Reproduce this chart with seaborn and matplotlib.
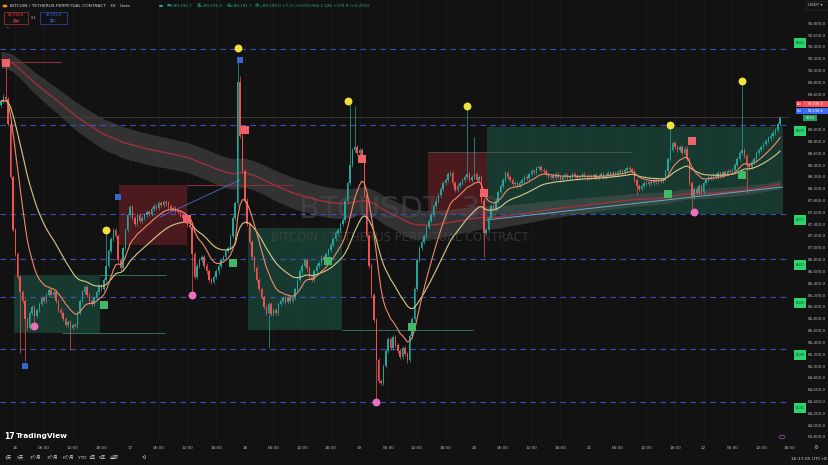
import numpy as np
import pandas as pd
import matplotlib
matplotlib.use("Agg")
import matplotlib.pyplot as plt
from matplotlib.patches import Rectangle, Circle
import seaborn as sns

# BTC/USDT perpetual (Gate), 30 min candles, 15th 21:00 -> 22nd 16:00
# one row = 12 candles = 6 hours
first_open = 89420
closes = [
    89480, 89560, 89520, 89100, 88200, 87300, 86900, 86500, 86250, 86100, 85800, 85650,
    85900, 86000, 85850, 85950, 86050, 86150, 86100, 86200, 86280, 86200, 86250, 86100,
    85950, 85900, 85800, 85700, 85750, 85650, 85700, 85680, 85900, 86100, 86250, 86330,
    86200, 86100, 86050, 86150, 86250, 86350, 86300, 86450, 86700, 86950, 87150, 87300,
    87200, 86800, 86650, 87000, 87300, 87550, 87690, 87500, 87400, 87550, 87450, 87500,
    87550, 87600, 87580, 87650, 87700, 87680, 87750, 87720, 87780, 87750, 87700, 87650,
    87680, 87620, 87600, 87550, 87500, 87450, 87380, 87350, 86900, 86500, 86700, 86800,
    86850, 86700, 86600, 86450, 86420, 86500, 86600, 86700, 86800, 86850, 86950, 87000,
    87200, 87500, 87750, 89800, 88900, 88300, 87800, 87400, 87100, 86850, 86650, 86450,
    86300, 86170, 86000, 85900, 86050, 85880, 85950, 85900, 86050, 86100, 86150, 86080,
    86170, 86100, 86150, 86300, 86450, 86600, 86700, 86800, 86650, 86500, 86460, 86600,
    86700, 86750, 86850, 86800, 86900, 86960, 87050, 87150, 87250, 87300, 87400, 87470,
    87800, 88100, 88400, 88650, 88710, 88600, 88650, 88500, 87900, 87200, 86700, 86200,
    85780, 85100, 84750, 84720, 85000, 85250, 85450, 85300, 85490, 85350, 85250, 85150,
    85300, 85200, 85100, 85500, 85800, 86300, 86800, 87000, 87100, 87200, 87350, 87450,
    87550, 87700, 87800, 87900, 88000, 88100, 88150, 88250, 88270, 88100, 87980, 88050,
    88100, 88150, 88200, 88250, 88150, 88200, 88250, 88150, 88200, 87800, 87250, 87300,
    87500, 87700, 87650, 87800, 87950, 88050, 88150, 88270, 88200, 88150, 88080, 88100,
    88050, 88100, 88150, 88200, 88180, 88250, 88300, 88280, 88350, 88370, 88320, 88300,
    88250, 88200, 88220, 88180, 88240, 88200, 88150, 88200, 88230, 88180, 88200, 88250,
    88220, 88180, 88200, 88240, 88210, 88190, 88220, 88200, 88230, 88180, 88210, 88250,
    88200, 88230, 88260, 88240, 88270, 88250, 88280, 88300, 88280, 88320, 88350, 88330,
    88300, 88150, 88050, 88000, 88050, 88100, 88080, 88120, 88100, 88140, 88110, 88150,
    88130, 88160, 88300, 88500, 88650, 88770, 88700, 88650, 88700, 88600, 88680, 88500,
    88100, 87860, 88000, 87930, 88050, 87950, 88100, 88150, 88200, 88180, 88230, 88200,
    88260, 88220, 88280, 88250, 88300, 88280, 88320, 88400, 88500, 88600, 88650, 88550,
    88400, 88370, 88450, 88500, 88600, 88650, 88700, 88750, 88800, 88850, 88900, 88950,
    89000, 89100, 89199,
]
# long wicks (candle index -> extreme)
wick_high = {2: 90060, 44: 87350, 99: 90180, 100: 89900, 146: 89450, 148: 89400,
             195: 89400, 198: 88870, 280: 89080, 310: 89830}
wick_low = {8: 85220, 10: 85080, 14: 85720, 29: 85270, 80: 86170, 112: 85300,
            157: 84391, 170: 85050, 202: 86850, 266: 87900, 289: 87600, 312: 87930}

# long EMA tunnel was already running before the visible window
band_seed_fast = 90120
band_seed_slow = 90260

# signal markers (candle index, price)
yellow_idx = [44, 99, 145, 195, 280, 310]
yellow_px = [87300, 90380, 89480, 89400, 89080, 89820]
pink_idx = [14, 80, 157, 290]
pink_px = [85680, 86200, 84390, 87600]
sell_idx = [2, 78, 102, 151, 202, 289]
sell_px = [90127, 87488, 88994, 88503, 87928, 88807]
buy_idx = [43, 97, 137, 172, 279, 310]
buy_px = [86032, 86743, 86785, 85660, 87910, 88232]
blue_idx = [10, 49, 100]
blue_px = [85000, 87860, 90178]

# zones: (start idx, end idx, low, high)
green_zones = [(5.4, 41.4, 85559, 86540), (103.3, 142.7, 85610, 87335),
               (203.4, 327.2, 87572, 89044)]
red_zones = [(49.4, 77.8, 87048, 88063), (178.7, 203.4, 87555, 88604)]

# horizontal levels
level_prices = [90364, 89078, 87572, 86811, 86168, 85288, 84391]

days = ["16", "17", "18", "19", "20", "21", "22"]
time_labels = []
for d in days:
    time_labels += [d, "06:00", "12:00", "18:00"]

BG = "#121212"
UP, DOWN = "#26a69a", "#ef5350"
TXT = "#b2b5be"
W, H = 829, 465
YMIN, YMAX = 83748, 91193

sns.set_theme(style="dark", rc={"axes.facecolor": BG, "figure.facecolor": BG,
                                "axes.edgecolor": BG})
plt.rcParams["font.family"] = ["DejaVu Sans", "Noto Sans CJK SC"]

n = len(closes)
df = pd.DataFrame({"i": np.arange(n), "close": closes})
df["open"] = [first_open] + closes[:-1]
df["high"] = df[["open", "close"]].max(axis=1) + 35
df["low"] = df[["open", "close"]].min(axis=1) - 35
for k, v in wick_high.items():
    df.loc[k, "high"] = v
for k, v in wick_low.items():
    df.loc[k, "low"] = v

df["ema_fast"] = df["close"].ewm(span=12, adjust=False).mean()
df["ema_slow"] = df["close"].ewm(span=30, adjust=False).mean()
a = pd.Series([band_seed_fast] + closes).ewm(span=190, adjust=False).mean().iloc[1:].values
b = pd.Series([band_seed_slow] + closes).ewm(span=250, adjust=False).mean().iloc[1:].values
df["band_lo"] = np.minimum(a, b) - 70
df["band_hi"] = np.maximum(a, b) + 70
df["band_mid"] = (a + b) / 2

fig = plt.figure(figsize=(W / 100, H / 100), dpi=100)
ax = fig.add_axes([0, 25 / H, 790 / W, 440 / H])
ax.set_xlim(-0.42, 330.1)
ax.set_ylim(YMIN, YMAX)

# zones
for x0, x1, lo, hi in green_zones:
    ax.add_patch(Rectangle((x0, lo), x1 - x0, hi - lo, facecolor="#1c5a4a",
                           alpha=0.55, edgecolor="none", zorder=1))
for x0, x1, lo, hi in red_zones:
    ax.add_patch(Rectangle((x0, lo), x1 - x0, hi - lo, facecolor="#6a1f26",
                           alpha=0.65, edgecolor="none", zorder=1))

# tunnel band
ax.fill_between(df["i"], df["band_lo"], df["band_hi"], color="#5a5a5a",
                alpha=0.45, lw=0, zorder=1.5)
sns.lineplot(data=df, x="i", y="band_mid", color="#b0303e", lw=1.0, alpha=0.85,
             ax=ax, zorder=2)

# watermark
ax.text(0.506, 0.523, "BTCUSDT, 30", transform=ax.transAxes, ha="center",
        va="center", fontsize=22, color="#4a4a4a", alpha=0.6, zorder=1.8)
ax.text(0.506, 0.462, "BITCOIN / TETHERUS PERPETUAL CONTRACT", transform=ax.transAxes,
        ha="center", va="center", fontsize=8.4, color="#4a4a4a", alpha=0.6, zorder=1.8)

# levels and drawn lines
for p in level_prices:
    ax.axhline(p, color="#3f52b8", lw=0.8, ls=(0, (5, 4)), zorder=2)
ax.axhline(89213, color="#4a3d33", lw=0.6, zorder=1.6)
ax.hlines(90144, 0, 25, color="#8a3038", lw=0.8, zorder=2)
ax.hlines(86540, 41.4, 69, color="#2f6f5f", lw=0.7, zorder=2)
ax.hlines(85559, 25.5, 68.6, color="#2f6f5f", lw=0.7, zorder=2)
ax.hlines(88063, 77.8, 121.8, color="#8a3038", lw=0.7, zorder=2)
ax.hlines(85610, 142.7, 197.5, color="#2f6f5f", lw=0.7, zorder=2)
ax.hlines(88620, 178.7, 264, color="#555555", lw=0.6, zorder=2)
ax.plot([66.5, 100], [87521, 88148], color="#4a6fd0", lw=0.6, zorder=2)
ax.plot([203, 327], [87471, 88029], color="#6fa8c8", lw=0.7, zorder=2)

# candles
up = df["close"] >= df["open"]
cols = np.where(up, UP, DOWN)
ax.vlines(df["i"], df["low"], df["high"], colors=cols, lw=0.5, zorder=3)
body = (df["close"] - df["open"]).abs().clip(lower=10)
ax.bar(df["i"], body, bottom=df[["open", "close"]].min(axis=1), width=0.62,
       color=cols, lw=0, zorder=3)

# moving averages
sns.lineplot(data=df, x="i", y="ema_slow", color="#d9c98a", lw=0.8, ax=ax, zorder=4)
sns.lineplot(data=df, x="i", y="ema_fast", color="#f08a6a", lw=0.8, ax=ax, zorder=4)

# signals
sns.scatterplot(x=yellow_idx, y=yellow_px, color="#f2e13a", s=32, lw=0, ax=ax, zorder=5)
sns.scatterplot(x=pink_idx, y=pink_px, color="#ee6fc0", s=32, lw=0, ax=ax, zorder=5)
sns.scatterplot(x=sell_idx, y=sell_px, color="#f0626a", marker="s", s=40, lw=0, ax=ax, zorder=5)
sns.scatterplot(x=buy_idx, y=buy_px, color="#43b968", marker="s", s=36, lw=0, ax=ax, zorder=5)
sns.scatterplot(x=blue_idx, y=blue_px, color="#3466d6", marker="s", s=20, lw=0, ax=ax, zorder=5)

# axes
ax.set_xlabel("")
ax.set_ylabel("")
ax.set_xticks(np.arange(6, 6 + 12 * len(time_labels), 12))
ax.set_xticklabels(time_labels)
ax.yaxis.tick_right()
yt = np.arange(83800, 90801, 200)
ax.set_yticks(yt)
# the 89,200 label sits under the ask/bid tags
ax.set_yticklabels(["" if v == 89200 else f"{v:,.1f}" for v in yt])
ax.tick_params(axis="x", length=0, pad=4, labelsize=3, labelcolor=TXT)
ax.tick_params(axis="y", length=0, pad=13, labelsize=3, labelcolor=TXT)
ax.grid(axis="x", color="#1a1a1a", lw=0.6)
ax.grid(axis="y", visible=False)
ax.set_axisbelow(True)
for s in ax.spines.values():
    s.set_visible(False)


def py(p):
    return (YMAX - p) / (YMAX - YMIN) * 440


def frect(x, y, w, h, color, **kw):
    fig.add_artist(Rectangle((x / W, 1 - (y + h) / H), w / W, h / H,
                             transform=fig.transFigure, facecolor=color, **kw))


def ftext(x, y, s, **kw):
    kw.setdefault("va", "center")
    fig.text(x / W, 1 - y / H, s, **kw)


# level tags on the price scale
for j, p in enumerate(level_prices):
    yc = py(p) + (-6 if j == 0 else 6)
    frect(794, yc - 5, 12, 10, "#2bd46f", edgecolor="none")
    ftext(800, yc, f"{p:,.0f}", fontsize=1.8, color="#0b3d1e", ha="center")

# ask / bid / countdown
frect(796, 101, 7, 6, "#f23645", edgecolor="none")
ftext(799.5, 104, "Ask", fontsize=2.2, color="white", ha="center")
frect(803, 101, 26, 6, "#f7525f", edgecolor="none")
ftext(816, 104, "89,198.9", fontsize=2.5, color="white", ha="center")
frect(796, 108, 7, 6, "#2962ff", edgecolor="none")
ftext(799.5, 111, "Bid", fontsize=2.2, color="white", ha="center")
frect(803, 108, 26, 6, "#3d6df5", edgecolor="none")
ftext(816, 111, "89,198.8", fontsize=2.5, color="white", ha="center")
frect(803, 115, 14, 6, "#1e9e62", edgecolor="none")
ftext(810, 118, "10:52", fontsize=2.3, color="white", ha="center")

frect(806, 1, 22, 9, BG, edgecolor="#2a2a2a", lw=0.5)
ftext(808, 5.5, "USDT ▾", fontsize=3, color="#d1d4dc")

# header legend
fig.add_artist(Circle((5 / W, 1 - 6 / H), 2.5 / W, transform=fig.transFigure,
                      facecolor="#f7931a", edgecolor="none"))
ftext(10, 6, "BITCOIN / TETHERUS PERPETUAL CONTRACT · 30 · Gate", fontsize=3.2,
      color="#d1d4dc")
fig.add_artist(Circle((161 / W, 1 - 6 / H), 2 / W, transform=fig.transFigure,
                      facecolor="#22ab94", edgecolor="none"))
ohlc = [(167, "开=89,191.7"), (197, "高=89,235.2"), (227, "低=89,191.7"),
        (255, "收=89,199.0 +7.3 (+0.01%)"), (313, "Vol 1.32K +178.9 (+0.20%)")]
for x, s in ohlc:
    ftext(x, 6, s, fontsize=3, color="#22ab94")
frect(4, 12, 24, 12, BG, edgecolor="#a8323a", lw=0.5)
ftext(16, 15.5, "89,198.8", fontsize=2.6, color="#f23645", ha="center")
ftext(16, 20.5, "卖出", fontsize=2.6, color="#f23645", ha="center")
ftext(34, 18, "0.1", fontsize=2.6, color=TXT, ha="center")
frect(40, 12, 27, 12, BG, edgecolor="#2f4fb0", lw=0.5)
ftext(53.5, 15.5, "89,199.0", fontsize=2.6, color="#3d6df5", ha="center")
ftext(53.5, 20.5, "买入", fontsize=2.6, color="#3d6df5", ha="center")
ftext(6, 28.5, "^", fontsize=3, color=TXT)

# branding and footer
ftext(4, 436, "17", fontsize=5.5, color="white", fontweight="bold")
ftext(16, 436, "TradingView", fontsize=5.3, color="white", fontweight="bold")
fig.add_artist(Circle((782 / W, 1 - 437 / H), 3 / W, transform=fig.transFigure,
                      facecolor="none", edgecolor="#8e44ad", lw=0.6))
ftext(816, 447, "⚙", fontsize=4, color=TXT, ha="center")
ranges = [(5, "1天"), (17, "5天"), (30, "1个月"), (47, "3个月"), (63, "6个月"),
          (78, "YTD"), (89, "1年"), (99, "5年"), (110, "全部")]
for x, s in ranges:
    ftext(x, 458, s, fontsize=3.2, color="#d1d4dc")
ftext(142, 458, "⟲", fontsize=3.5, color="#d1d4dc")
ftext(827, 459, "16:17:05 UTC+8", fontsize=3.2, color="#d1d4dc", ha="right")

fig.savefig("out.png", dpi=100, facecolor=BG)
